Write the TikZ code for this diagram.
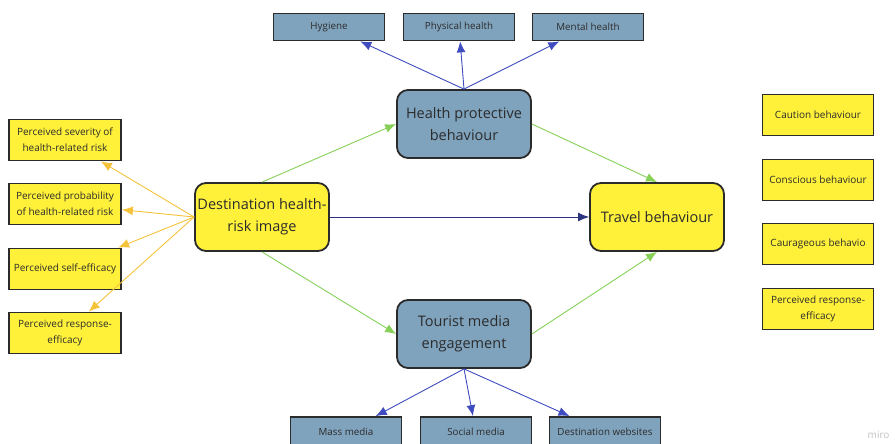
\documentclass[tikz,border=0pt]{standalone}
\usepackage{fontspec}
\setmainfont{Open Sans}
\usetikzlibrary{arrows.meta}
\definecolor{ink}{HTML}{2B2B2B}
\definecolor{cYel}{HTML}{FFF13A}
\definecolor{cSla}{HTML}{80A3BD}
\definecolor{cGol}{HTML}{F5C33B}
\definecolor{cGrn}{HTML}{86D057}
\definecolor{cBlu}{HTML}{3F4CC0}
\definecolor{cNav}{HTML}{2E3580}
\definecolor{cMir}{HTML}{C0C0C0}

\begin{document}
\begin{tikzpicture}[x=1pt,y=-1pt,
  box/.style={draw=ink,line width=1.8pt,text=ink,align=center,inner sep=0pt},
  leaf/.style={box,fill=cSla,minimum width=111pt,minimum height=27pt,font=\fontsize{9.8}{12}\selectfont},
  side/.style={box,fill=cYel,minimum width=112pt,minimum height=41pt,font=\fontsize{10}{16}\selectfont},
  core/.style={box,rounded corners=11pt,minimum width=134pt,minimum height=68pt,font=\fontsize{14.5}{22}\selectfont},
  link/.style={line width=0.9pt,-{Latex[length=11pt,width=9pt]}}]
  \useasboundingbox (0,0) rectangle (895,444);
  \node[core,fill=cSla] (hpb) at (464,124) {Health protective\\behaviour};
  \node[core,fill=cYel] (dri) at (262,217) {Destination health-\\risk image};
  \node[core,fill=cYel] (trv) at (657,217) {Travel behaviour};
  \node[core,fill=cSla] (tme) at (464,334) {Tourist media\\engagement};
  \foreach \n/\x/\t in {hyg/329/Hygiene, phy/459/Physical health, men/588/Mental health}{
    \node[leaf] (\n) at (\x,27) {\t};
    \draw[link,cBlu] (hpb.north) -- (\n);
  }
  \foreach \n/\x/\t in {mas/346/Mass media, soc/476/Social media, web/605/Destination websites}{
    \node[leaf,minimum height=30pt] (\n) at (\x,432) {\t};
    \draw[link,cBlu] (tme.south) -- (\n);
  }
  \foreach \n/\y/\t in {sev/140/Perceived severity of\\health-related risk, pro/204/Perceived probability\\of health-related risk,
                        slf/269/Perceived self-efficacy, rsp/333/Perceived response-\\efficacy}{
    \node[side] (\n) at (65,\y) {\t};
    \draw[link,cGol] (dri.west) -- (\n);
  }
  \foreach \n/\y/\t in {cau/115/Caution behaviour, con/180/Conscious behaviour,
                        cou/244/Caurageous behavio, pre/309/Perceived response-\\efficacy}{
    \node[side,minimum width=111pt] (\n) at (818,\y) {\t};
  }
  \draw[link,cGrn] (dri.north) -- (hpb.west);
  \draw[link,cGrn] (hpb.east) -- (trv.north);
  \draw[link,cGrn] (dri.south) -- (tme.west);
  \draw[link,cGrn] (tme.east) -- (trv.south);
  \draw[link,cNav] (dri.east) -- (trv.west);
  \node[text=cMir,font=\fontsize{10}{12}\selectfont,anchor=south east] (wm) at (893,442) {miro};
\end{tikzpicture}
\end{document}
